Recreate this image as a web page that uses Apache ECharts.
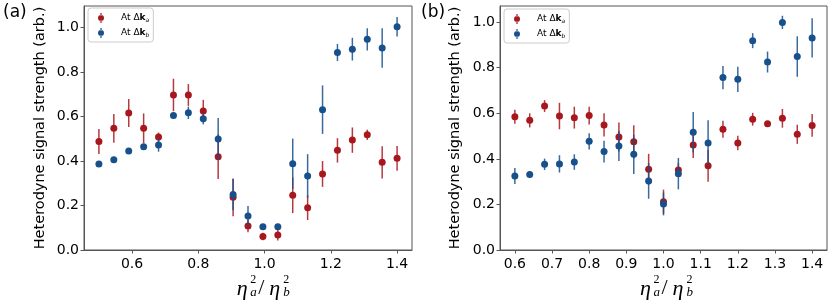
<!DOCTYPE html>
<html><head><meta charset="utf-8">
<script src="https://cdn.jsdelivr.net/npm/echarts@6/dist/echarts.min.js"></script>
<style>html,body{margin:0;padding:0;background:#fff}#c{width:831px;height:306px}</style>
</head><body><div id="c"></div>
<script>
// ---------- data ----------
const xA = [0.500,0.545,0.590,0.635,0.680,0.725,0.770,0.815,0.860,0.905,0.950,0.995,1.040,1.085,1.130,1.175,1.220,1.265,1.310,1.355,1.400];
const redA = [0.488,0.547,0.616,0.547,0.508,0.697,0.697,0.625,0.419,0.237,0.108,0.061,0.067,0.246,0.190,0.342,0.448,0.494,0.518,0.394,0.412];
const redAErr = [0.056,0.065,0.063,0.067,0.020,0.073,0.049,0.050,0.100,0.085,0.028,0.017,0.024,0.080,0.055,0.058,0.055,0.057,0.023,0.072,0.056];
const blueA = [0.387,0.406,0.445,0.464,0.472,0.605,0.617,0.590,0.499,0.249,0.153,0.105,0.105,0.388,0.333,0.631,0.888,0.903,0.947,0.908,1.004];
const blueAErr = [0.008,0.010,0.012,0.012,0.030,0.010,0.028,0.025,0.094,0.070,0.045,0.008,0.010,0.113,0.098,0.109,0.038,0.051,0.050,0.089,0.044];

const xB = [0.60,0.64,0.68,0.72,0.76,0.80,0.84,0.88,0.92,0.96,1.00,1.04,1.08,1.12,1.16,1.20,1.24,1.28,1.32,1.36,1.40];
const redB = [0.585,0.569,0.632,0.588,0.581,0.590,0.549,0.496,0.475,0.354,0.212,0.351,0.461,0.370,0.530,0.470,0.574,0.554,0.578,0.508,0.547];
const redBErr = [0.031,0.031,0.026,0.058,0.048,0.039,0.051,0.064,0.073,0.068,0.053,0.030,0.057,0.070,0.037,0.032,0.028,0.012,0.041,0.042,0.050];
const blueB = [0.325,0.331,0.376,0.378,0.386,0.477,0.432,0.457,0.420,0.303,0.202,0.335,0.517,0.470,0.757,0.749,0.919,0.825,0.999,0.849,0.931];
const blueBErr = [0.035,0.015,0.025,0.038,0.034,0.036,0.048,0.066,0.086,0.078,0.050,0.069,0.089,0.099,0.051,0.055,0.033,0.046,0.029,0.089,0.086];

const xTicksA = [0.6,0.8,1.0,1.2,1.4];
const xTicksB = [0.6,0.7,0.8,0.9,1.0,1.1,1.2,1.3,1.4];
const yTicks = [0,0.2,0.4,0.6,0.8,1.0];
const nameA = 'At Δka', nameB = 'At Δkb';
const yName = 'Heterodyne signal strength (arb.)';

// ---------- style ----------
const RED = '#a8171e', BLUE = '#18508c', FRAME = '#555';
const iconPath = 'path://M2,5a3,3 0 1,0 6,0a3,3 0 1,0 -6,0zM4.4,0h1.2v2.4h-1.2zM4.4,7.6h1.2v2.4h-1.2z';

function xAxisCfg(idx, min, max, ticks){
  return {type:'value', gridIndex:idx, min:min, max:max,
    axisLine:{show:true, lineStyle:{color:FRAME, width:1}},
    axisTick:{show:true, length:3.5, customValues:ticks, lineStyle:{color:FRAME}},
    axisLabel:{customValues:ticks, margin:7, color:'#000', fontFamily:'DejaVu Sans', fontSize:14,
      formatter:v=>v.toFixed(1)},
    splitLine:{show:false}};
}
function yAxisCfg(idx, max, gap){
  return {type:'value', gridIndex:idx, min:0, max:max,
    name:yName, nameLocation:'middle', nameGap:gap,
    nameTextStyle:{fontFamily:'DejaVu Sans', fontSize:14.5, color:'#000'},
    axisLine:{show:true, lineStyle:{color:FRAME, width:1}},
    axisTick:{show:true, length:3.5, customValues:yTicks, lineStyle:{color:FRAME}},
    axisLabel:{customValues:yTicks, margin:5, color:'#000', fontFamily:'DejaVu Sans', fontSize:14,
      formatter:v=>v.toFixed(1)},
    splitLine:{show:false}};
}
function errSeries(idx, xs, ys, es, color, z){
  return {type:'custom', xAxisIndex:idx, yAxisIndex:idx, z:z, silent:true,
    encode:{x:0, y:[1,2]},
    data: xs.map((x,i)=>[x, ys[i]-es[i], ys[i]+es[i]]),
    renderItem:function(params, api){
      const p1 = api.coord([api.value(0), api.value(1)]);
      const p2 = api.coord([api.value(0), api.value(2)]);
      return {type:'line', shape:{x1:p1[0],y1:p1[1],x2:p2[0],y2:p2[1]},
        style:{stroke:color, lineWidth:1.5, opacity:0.85}};
    }};
}
function ptSeries(idx, name, xs, ys, color, z){
  return {type:'scatter', name:name, xAxisIndex:idx, yAxisIndex:idx, z:z,
    symbol:'circle', symbolSize:7, itemStyle:{color:color, opacity:1},
    data: xs.map((x,i)=>[x, ys[i]])};
}
function legendCfg(left, top){
  return {orient:'vertical', left:left, top:top, itemWidth:6, itemHeight:10, itemGap:3,
    padding:[4,4,3,10], borderColor:'#ccc', borderWidth:1, borderRadius:3,
    backgroundColor:'rgba(255,255,255,0.8)',
    data:[{name:nameA, icon:iconPath}, {name:nameB, icon:iconPath}],
    formatter:n=>'{p|At} Δ{k|k}{s|'+n.slice(-1)+'}',
    textStyle:{fontFamily:'DejaVu Sans', fontSize:9, color:'#000', lineHeight:12,
      rich:{p:{fontFamily:'DejaVu Sans', fontSize:9, color:'#000', padding:[0,0,0,12]},
            k:{fontFamily:'DejaVu Sans', fontSize:9, fontWeight:'bold', color:'#000'},
            s:{fontFamily:'DejaVu Sans', fontSize:6, fontStyle:'italic', color:'#000', padding:[4,0,0,0]}}}};
}
function xLabel(left){
  const F = '"Liberation Serif", "DejaVu Serif", serif';
  const t = (x,y,s,size,italic)=>({type:'text', x:left+x, y:y, silent:true,
    style:{text:s, fontFamily:F, fontSize:size, fontStyle:italic?'italic':'normal', fill:'#000',
      align:'left', verticalAlign:'middle'}});
  return [t(0,289,'η',22,true), t(13.5,279.5,'2',12,false), t(13.5,293,'a',13,true),
          t(21.5,288,'/',22,false),
          t(32.5,289,'η',22,true), t(46.5,279.5,'2',12,false), t(46.5,293,'b',13,true)];
}

const chart = echarts.init(document.getElementById('c'), null, {renderer:'canvas'});
chart.setOption({
  animation:false,
  backgroundColor:'#fff',
  grid:[{left:84, top:6, width:328, height:244, show:true, borderColor:FRAME, borderWidth:1},
        {left:500, top:6, width:327, height:244, show:true, borderColor:FRAME, borderWidth:1}],
  xAxis:[xAxisCfg(0, 0.455, 1.445, xTicksA), xAxisCfg(1, 0.56, 1.44, xTicksB)],
  yAxis:[yAxisCfg(0, 1.097, 36), yAxisCfg(1, 1.071, 37)],
  legend:[legendCfg(88, 8), legendCfg(504, 9)],
  series:[
    errSeries(0, xA, redA, redAErr, RED, 2), ptSeries(0, nameA, xA, redA, RED, 3),
    errSeries(0, xA, blueA, blueAErr, BLUE, 4), ptSeries(0, nameB, xA, blueA, BLUE, 5),
    errSeries(1, xB, redB, redBErr, RED, 2), ptSeries(1, nameA, xB, redB, RED, 3),
    errSeries(1, xB, blueB, blueBErr, BLUE, 4), ptSeries(1, nameB, xB, blueB, BLUE, 5)
  ],
  graphic:[
    {type:'text', x:3, y:4, silent:true, style:{text:'(a)', fontFamily:'DejaVu Sans', fontSize:17, fill:'#000', verticalAlign:'top'}},
    {type:'text', x:421, y:4, silent:true, style:{text:'(b)', fontFamily:'DejaVu Sans', fontSize:17, fill:'#000', verticalAlign:'top'}},
    ...xLabel(236.7), ...xLabel(640)
  ]
});
</script></body></html>
